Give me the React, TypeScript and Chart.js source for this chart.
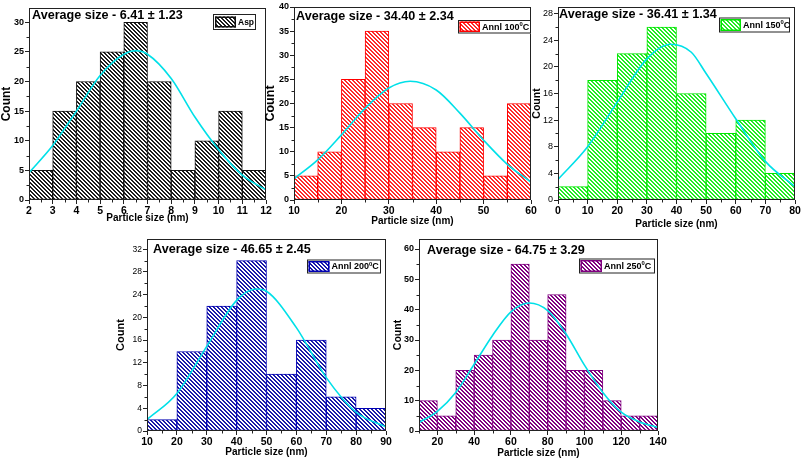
import React, { useEffect, useRef } from 'react';
import { Chart, registerables } from 'chart.js';
Chart.register(...registerables);

const FONT = "'Liberation Sans', Arial, sans-serif";
Chart.defaults.font.family = FONT;
Chart.defaults.color = '#000';

// ---------------- data ----------------
const xTitle = 'Particle size (nm)';
const yTitle = 'Count';

const aspEdges = [2, 3, 4, 5, 6, 7, 8, 9, 10, 11, 12];
const aspCounts = [5, 15, 20, 25, 30, 20, 5, 10, 15, 5];
const aspFit = [[2, 4.6], [3, 9.2], [4, 15], [5, 21], [6, 24.6], [6.5, 25.2], [7, 24.6], [8, 20.5], [9, 14], [10, 8.5], [11, 4.2], [12, 1.7]];
const aspXTicks = [2, 3, 4, 5, 6, 7, 8, 9, 10, 11, 12];
const aspYTicks = [0, 5, 10, 15, 20, 25, 30];
const aspNote = 'Average size - 6.41 ± 1.23';
const aspLabel = 'Asp';

const a100Edges = [10, 15, 20, 25, 30, 35, 40, 45, 50, 55, 60];
const a100Counts = [5, 10, 25, 35, 20, 15, 10, 15, 5, 20];
const a100Fit = [[10, 4.4], [15, 8.3], [20, 13.5], [25, 19], [30, 23.2], [34.5, 24.6], [40, 22.8], [45, 18], [50, 12.4], [55, 7.4], [60, 3.7]];
const a100XTicks = [10, 20, 30, 40, 50, 60];
const a100YTicks = [0, 5, 10, 15, 20, 25, 30, 35, 40];
const a100Note = 'Average size - 34.40 ± 2.34';
const a100Label = 'Annl 100⁰C';

const a150Edges = [0, 10, 20, 30, 40, 50, 60, 70, 80];
const a150Counts = [2, 18, 22, 26, 16, 10, 12, 4];
const a150Fit = [[0, 3.1], [10, 8], [20, 14.7], [30, 21.2], [38, 23.4], [45, 22.2], [50, 19], [60, 12.2], [70, 5.8], [80, 2]];
const a150XTicks = [0, 10, 20, 30, 40, 50, 60, 70, 80];
const a150YTicks = [0, 4, 8, 12, 16, 20, 24, 28];
const a150Note = 'Average size - 36.41 ± 1.34';
const a150Label = 'Annl 150⁰C';

const a200Edges = [10, 20, 30, 40, 50, 60, 70, 80, 90];
const a200Counts = [2, 14, 22, 30, 10, 16, 6, 4];
const a200Fit = [[10, 2], [20, 6.6], [30, 14.9], [40, 23], [46.5, 25], [50, 24.6], [60, 18.2], [70, 9.4], [80, 3.3], [90, 0.7]];
const a200XTicks = [10, 20, 30, 40, 50, 60, 70, 80, 90];
const a200YTicks = [0, 4, 8, 12, 16, 20, 24, 28, 32];
const a200Note = 'Average size - 46.65 ± 2.45';
const a200Label = 'Annl 200⁰C';

const a250Edges = [10, 20, 30, 40, 50, 60, 70, 80, 90, 100, 110, 120, 130, 140];
const a250Counts = [10, 5, 20, 25, 30, 55, 30, 45, 20, 20, 10, 5, 5];
const a250Fit = [[10, 2.8], [20, 6.5], [30, 12.7], [40, 22], [50, 31.5], [60, 39.3], [70, 42.2], [80, 39.7], [90, 32], [100, 21.7], [110, 12.7], [120, 6.2], [130, 3], [140, 1.2]];
const a250XTicks = [20, 40, 60, 80, 100, 120, 140];
const a250YTicks = [0, 10, 20, 30, 40, 50, 60];
const a250Note = 'Average size - 64.75 ± 3.29';
const a250Label = 'Annl 250⁰C';

// ---------------- layout / style ----------------
const panels: any[] = [
  {
    edges: aspEdges, counts: aspCounts, fit: aspFit, xTicks: aspXTicks, yTicks: aspYTicks, note: aspNote, label: aspLabel,
    color: '#111111', hatch: '#1e1e1e',
    area: [29, 8, 266, 200], countX: 6.5, countSize: 12, xTitleY: 218,
    xMin: 2, xMax: 12, xMinor: 0.5, yMax: 32.4, yMinor: 2.5,
    yTickFont: { size: 9, weight: 'bold' },
    notePos: [32, 19], legendBox: [213, 14, 43, 16], swatch: [215, 16.5, 21, 11], legendSize: 8.5,
  },
  {
    edges: a100Edges, counts: a100Counts, fit: a100Fit, xTicks: a100XTicks, yTicks: a100YTicks, note: a100Note, label: a100Label,
    color: '#ff0000', hatch: '#ff2a2a',
    area: [294, 7, 531, 200], countX: 271, countSize: 12.5, xTitleY: 221,
    xMin: 10, xMax: 60, xMinor: 5, yMax: 40, yMinor: 2.5,
    yTickFont: { size: 9, weight: 'bold' },
    notePos: [296, 19.5], legendBox: [458, 20, 73, 13.5], swatch: [459.5, 21.5, 20.5, 10.5], legendSize: 9,
  },
  {
    edges: a150Edges, counts: a150Counts, fit: a150Fit, xTicks: a150XTicks, yTicks: a150YTicks, note: a150Note, label: a150Label,
    color: '#00e600', hatch: '#22ee22',
    area: [558, 7, 795, 200], countX: 537, countSize: 10.5, xTitleY: 224,
    xMin: 0, xMax: 80, xMinor: 5, yMax: 29, yMinor: 2,
    yTickFont: { size: 9, weight: 'normal' },
    notePos: [559, 17.7], legendBox: [719, 17.5, 71, 15], swatch: [720.5, 19, 20.5, 12], legendSize: 9,
  },
  {
    edges: a200Edges, counts: a200Counts, fit: a200Fit, xTicks: a200XTicks, yTicks: a200YTicks, note: a200Note, label: a200Label,
    color: '#0000b4', hatch: '#1a1aa8',
    area: [147, 239, 386, 431], countX: 121, countSize: 11, xTitleY: 452,
    xMin: 10, xMax: 90, xMinor: 5, yMax: 33.8, yMinor: 2,
    yTickFont: { size: 8.5, weight: 'normal' },
    notePos: [153, 252.7], legendBox: [307, 259.5, 74, 14], swatch: [308.5, 261, 21, 11], legendSize: 9,
  },
  {
    edges: a250Edges, counts: a250Counts, fit: a250Fit, xTicks: a250XTicks, yTicks: a250YTicks, note: a250Note, label: a250Label,
    color: '#800080', hatch: '#800080',
    area: [419, 239, 658, 431], countX: 398, countSize: 10.5, xTitleY: 453,
    xMin: 10, xMax: 140, xMinor: 10, yMax: 63.3, yMinor: 5,
    yTickFont: { size: 9, weight: 'bold' },
    notePos: [427, 254.3], legendBox: [579, 258.5, 76, 15], swatch: [580.5, 260, 21.5, 12], legendSize: 9,
  },
];

function makePattern(color: string) {
  const c = document.createElement('canvas');
  c.width = 4; c.height = 4;
  const g = c.getContext('2d')!;
  g.fillStyle = '#ffffff';
  g.fillRect(0, 0, 4, 4);
  g.fillStyle = color;
  for (let y = 0; y < 4; y++) for (let x = 0; x < 4; x++) {
    if ((((x - y) % 4) + 4) % 4 < 2) g.fillRect(x, y, 1, 1);
  }
  return g.createPattern(c, 'repeat')!;
}

function drawLabel(ctx: CanvasRenderingContext2D, text: string, x: number, y: number, size: number) {
  const parts = text.split('⁰');
  ctx.textBaseline = 'middle';
  ctx.textAlign = 'left';
  ctx.font = `bold ${size}px ${FONT}`;
  ctx.fillText(parts[0], x, y);
  let cx = x + ctx.measureText(parts[0]).width;
  if (parts.length > 1) {
    ctx.font = `bold ${size * 0.65}px ${FONT}`;
    ctx.fillText('0', cx, y - size * 0.33);
    cx += ctx.measureText('0').width;
    ctx.font = `bold ${size}px ${FONT}`;
    ctx.fillText(parts[1], cx, y);
  }
}

function PanelChart({ p }: { p: any }) {
  const ref = useRef<HTMLCanvasElement>(null);
  const [L, T, R, B] = p.area;
  const cl = Math.round(p.countX - 8);
  const ct = T - 8;
  const cr = R + 12;
  const cb = Math.round(p.xTitleY + 6);
  const W = cr - cl;
  const H = cb - ct;

  useEffect(() => {
    const pattern = makePattern(p.hatch);
    const centers = p.counts.map((_: number, i: number) => (p.edges[i] + p.edges[i + 1]) / 2);
    const countLH = p.countSize * 1.2;
    const deco = {
      id: 'deco',
      afterDraw(chart: any) {
        const ctx: CanvasRenderingContext2D = chart.ctx;
        const a = chart.chartArea;
        const xs = chart.scales.x;
        const ys = chart.scales.y;
        ctx.save();
        ctx.strokeStyle = '#222';
        ctx.lineWidth = 1;
        // minor ticks (midway between major ticks)
        ctx.beginPath();
        const xMajor = p.xTicks;
        const xStep = xMajor[1] - xMajor[0];
        for (let i = -1; i < xMajor.length; i++) {
          const v = xMajor[0] + (i + 0.5) * xStep;
          if (v < xs.min - 1e-9 || v > xs.max + 1e-9) continue;
          const px = Math.round(xs.getPixelForValue(v)) + 0.5;
          ctx.moveTo(px, a.bottom);
          ctx.lineTo(px, a.bottom + 2.5);
        }
        const yMajor = p.yTicks;
        const yStep = yMajor[1] - yMajor[0];
        for (let i = -1; i < yMajor.length; i++) {
          const v = yMajor[0] + (i + 0.5) * yStep;
          if (v < ys.min - 1e-9 || v > ys.max + 1e-9) continue;
          const py = Math.round(ys.getPixelForValue(v)) + 0.5;
          ctx.moveTo(a.left, py);
          ctx.lineTo(a.left - 2.5, py);
        }
        ctx.stroke();
        // frame
        ctx.strokeRect(a.left + 0.5, a.top + 0.5, a.right - a.left - 1, a.bottom - a.top - 1);
        // note
        ctx.fillStyle = '#000';
        ctx.font = `bold 12.6px ${FONT}`;
        ctx.textBaseline = 'alphabetic';
        ctx.textAlign = 'left';
        ctx.fillText(p.note, p.notePos[0] - cl, p.notePos[1] - ct);
        // legend
        const [bx, by, bw, bh] = p.legendBox;
        ctx.fillStyle = '#fff';
        ctx.fillRect(bx - cl, by - ct, bw, bh);
        ctx.strokeStyle = '#222';
        ctx.lineWidth = 1;
        ctx.strokeRect(bx - cl + 0.5, by - ct + 0.5, bw - 1, bh - 1);
        const [sx, sy, sw, sh] = p.swatch;
        ctx.fillStyle = pattern;
        ctx.fillRect(sx - cl, sy - ct, sw, sh);
        ctx.strokeStyle = p.color;
        ctx.lineWidth = 1.5;
        ctx.strokeRect(sx - cl + 0.75, sy - ct + 0.75, sw - 1.5, sh - 1.5);
        ctx.fillStyle = '#000';
        drawLabel(ctx, p.label, sx + sw + 2 - cl, by + bh / 2 - ct + 0.5, p.legendSize);
        ctx.restore();
      },
    };

    const chart = new Chart(ref.current!, {
      type: 'bar',
      data: {
        datasets: [
          {
            type: 'line',
            data: p.fit.map(([x, y]: number[]) => ({ x, y })),
            borderColor: '#00e0e8',
            borderWidth: 1.6,
            pointRadius: 0,
            cubicInterpolationMode: 'monotone',
            fill: false,
            order: 0,
          } as any,
          {
            type: 'bar',
            data: centers.map((x: number, i: number) => ({ x, y: p.counts[i] })),
            backgroundColor: pattern,
            borderColor: p.color,
            borderWidth: 1,
            borderSkipped: false,
            barPercentage: 1,
            categoryPercentage: 1,
            order: 1,
          } as any,
        ],
      },
      options: {
        responsive: false,
        animation: false,
        events: [],
        layout: { padding: { left: 0, top: 8, right: 12, bottom: 0 } },
        plugins: { legend: { display: false }, tooltip: { enabled: false } },
        scales: {
          x: {
            type: 'linear',
            min: p.xMin,
            max: p.xMax,
            bounds: 'data',
            offset: false,
            grid: { offset: false, drawOnChartArea: false, drawTicks: true, tickLength: 4, tickColor: '#222', tickWidth: 1 },
            border: { display: false },
            afterBuildTicks: (s: any) => { s.ticks = p.xTicks.map((v: number) => ({ value: v })); },
            ticks: {
              autoSkip: false, maxRotation: 0, minRotation: 0,
              padding: 1, color: '#000', font: { size: 10.5, weight: 'bold' },
            },
            title: {
              display: true, text: xTitle, color: '#000',
              font: { size: 10, weight: 'bold' }, padding: { top: 0, bottom: 0 },
            },
            afterFit: (s: any) => { s.height = cb - B; s.paddingLeft = 0; s.paddingRight = 0; },
          } as any,
          y: {
            type: 'linear',
            min: 0,
            max: p.yMax,
            bounds: 'data',
            grid: { drawOnChartArea: false, drawTicks: true, tickLength: 4, tickColor: '#222', tickWidth: 1 },
            border: { display: false },
            afterBuildTicks: (s: any) => { s.ticks = p.yTicks.map((v: number) => ({ value: v })); },
            ticks: { autoSkip: false, padding: 1, color: '#000', font: p.yTickFont },
            title: {
              display: true, text: yTitle, color: '#000',
              font: { size: p.countSize, weight: 'bold' },
              padding: { top: Math.max(0, p.countX - cl - countLH / 2), bottom: 0 },
            },
            afterFit: (s: any) => { s.width = L - cl; s.paddingTop = 0; s.paddingBottom = 0; },
          } as any,
        },
      } as any,
      plugins: [deco],
    });
    return () => chart.destroy();
  }, []);

  return (
    <canvas
      ref={ref}
      width={W}
      height={H}
      style={{ position: 'absolute', left: cl, top: ct, width: W, height: H }}
    />
  );
}

export default function App() {
  return (
    <div style={{ position: 'fixed', left: 0, top: 0, width: 802, height: 462, background: '#fff', overflow: 'hidden' }}>
      {panels.map((p, i) => <PanelChart key={i} p={p} />)}
    </div>
  );
}
